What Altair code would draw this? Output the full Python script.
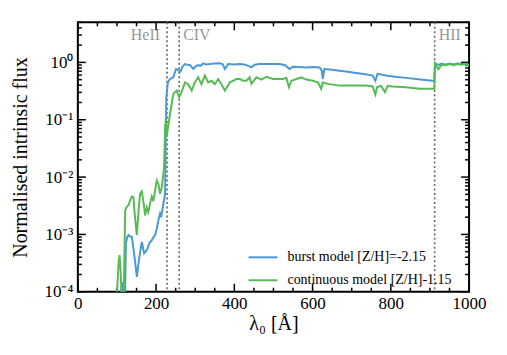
import altair as alt
import pandas as pd
import numpy as np

# --- data; flux given as log10 values ---
burst_lam = [105, 110.8, 112.5, 116.8, 120.5, 122.7, 126, 129.5, 134, 138, 145, 150.8, 156, 163.5,
             169.4, 173, 178, 183, 189, 193, 197.5, 201.7, 206, 210, 212.6, 218.7, 223, 224.5, 226,
             230, 235.7, 244, 251, 256.8, 262.5, 268, 273.9, 280, 286.6, 295, 301, 307.6, 314, 320.5,
             328, 337, 350, 362.5, 370, 375.8, 384, 400, 414, 428, 443.8, 452, 464, 490, 516, 530,
             541, 550, 565, 584, 600, 618, 624, 626, 630, 650, 669, 690, 711, 735, 753.6, 760.5, 766,
             787.8, 810, 838.7, 870, 906.5, 911, 913, 921.5, 930, 940, 950, 960, 970, 980, 990, 1000]
burst_log = [-5.0, -4.03, -3.83, -4.2, -4.2, -3.16, -3.05, -3.01, -3.04, -3.04, -3.4, -3.74, -3.45, -3.13,
             -3.33, -3.3, -3.25, -3.15, -3.10, -3.05, -3.01, -2.90, -2.75, -2.64, -2.70, -2.46, -2.29, -1.5, -0.62,
             -0.35, -0.29, -0.26, -0.115, -0.135, -0.16, -0.07, -0.03, -0.04, -0.045, -0.115, -0.07, -0.045, -0.06, -0.017,
             -0.035, -0.03, -0.02, -0.017, -0.03, -0.115, -0.03, -0.035, -0.03, -0.04, -0.087, -0.04, -0.03, -0.03, -0.03, -0.05,
             -0.115, -0.075, -0.08, -0.087, -0.08, -0.087, -0.15, -0.29, -0.115, -0.13, -0.145, -0.165, -0.185, -0.205, -0.23, -0.32, -0.2,
             -0.23, -0.25, -0.27, -0.295, -0.32, -0.32, -0.02, -0.045, -0.02, -0.04, -0.02, -0.035, -0.02, -0.03, -0.025, -0.045]

cont_lam = [95, 100, 104, 106.6, 109, 112.5, 117, 121, 125, 129.5, 134, 138, 142, 146, 150.8, 155, 159,
            163.5, 168, 172, 176, 180, 185, 189, 193, 197, 201.7, 206, 210, 214.7, 220.4, 222, 223, 225,
            227, 229, 235.7, 244, 252.5, 259, 265, 273.9, 282, 291, 299, 307.6, 316, 324.6, 333, 341.6,
            350, 358.6, 367, 375.8, 388.5, 405.5, 414, 422.5, 431, 439, 443.8, 456.5, 469, 482, 499, 524,
            533, 539.7, 546, 558.6, 571, 584, 601, 614, 622, 626, 639, 669, 711, 737, 753.6, 760.5, 765,
            775, 785, 792, 805, 839, 873, 906.5, 911, 913, 921.5, 930, 940, 950, 960, 970, 980, 990, 1000]
cont_log = [-5.0, -4.03, -3.5, -3.36, -3.6, -4.2, -4.2, -2.58, -2.52, -2.49, -2.40, -2.34, -2.35, -2.7, -3.01, -2.6, -2.29,
            -2.25, -2.45, -2.67, -2.53, -2.61, -2.45, -2.34, -2.42, -2.25, -2.06, -2.12, -2.29, -2.18, -1.83, -1.4, -1.13, -1.0,
            -1.30, -1.2, -0.90, -0.55, -0.49, -0.61, -0.52, -0.35, -0.38, -0.49, -0.35, -0.26, -0.38, -0.23, -0.35, -0.32,
            -0.38, -0.29, -0.38, -0.49, -0.35, -0.29, -0.29, -0.32, -0.32, -0.26, -0.375, -0.26, -0.3, -0.25, -0.29, -0.29,
            -0.27, -0.435, -0.32, -0.29, -0.26, -0.3, -0.32, -0.35, -0.46, -0.35, -0.375, -0.405, -0.405, -0.405, -0.42, -0.56, -0.43,
            -0.41, -0.52, -0.41, -0.42, -0.435, -0.46, -0.46, -0.46, -0.02, -0.12, -0.04, -0.05, -0.03, -0.05, -0.03, -0.04, -0.03, -0.05]

series_names = ["burst model [Z/H]=-2.15", "continuous model [Z/H]-1.15"]
series_colors = ["#4a98d6", "#57bb55"]

edge_lam = [228, 259, 912]
edge_names = ["HeII", "CIV", "HII"]
edge_align = ["right", "left", "left"]
edge_dx = [-7, 4, 4]

x_major = [0, 200, 400, 600, 800, 1000]
x_minor = [50, 100, 150, 250, 300, 350, 450, 500, 550, 650, 700, 750, 850, 900, 950]
y_major = [1e-4, 1e-3, 1e-2, 1e-1, 1]
y_minor = [m * 10.0 ** e for e in range(-4, 1) for m in range(2, 10) if m * 10.0 ** e <= 5]

W, H = 392, 270
FONT = "Liberation Serif"

df = pd.concat([
    pd.DataFrame({"lam": burst_lam, "flux": np.power(10.0, burst_log), "model": series_names[0]}),
    pd.DataFrame({"lam": cont_lam, "flux": np.power(10.0, cont_log), "model": series_names[1]}),
])

xs = alt.Scale(domain=[0, 1000], nice=False, zero=False)
ys = alt.Scale(type="log", domain=[1e-4, 5], nice=False)

x_axis = alt.Axis(values=x_major, title="λ₀ [Å]", format="d", labelPadding=4, titlePadding=2,
                  titleFontSize=20, labelFlush=False, labelOverlap=False)
y_axis = alt.Axis(
    values=y_major, title="Normalised intrinsic flux", labelPadding=5, titlePadding=14,
    titleFontSize=20, labelFlush=False, labelOverlap=False,
    labelExpr="datum.value >= 0.99 ? '10⁰' : datum.value >= 0.099 ? '10⁻¹' : datum.value >= 0.0099 ? '10⁻²' : datum.value >= 0.00099 ? '10⁻³' : '10⁻⁴'")

lines = alt.Chart(df).mark_line(clip=True, strokeWidth=2).encode(
    x=alt.X("lam:Q", scale=xs, axis=x_axis),
    y=alt.Y("flux:Q", scale=ys, axis=y_axis),
    color=alt.Color("model:N", sort=series_names,
                    scale=alt.Scale(domain=series_names, range=series_colors),
                    legend=alt.Legend(title=None, orient="none", legendX=170, legendY=220,
                                      symbolType="stroke", symbolStrokeWidth=2, symbolSize=841,
                                      labelLimit=0, rowPadding=-9, labelOffset=9)),
    order=alt.Order("model:N"),
)

edges_df = pd.DataFrame({"lam": edge_lam, "name": edge_names})
vlines = alt.Chart(edges_df).mark_rule(color="#666666", strokeDash=[2, 2.5], strokeWidth=1.6).encode(
    x=alt.X("lam:Q", scale=xs, axis=x_axis), y=alt.value(0), y2=alt.value(H))

texts = []
for n, l, a, d in zip(edge_names, edge_lam, edge_align, edge_dx):
    texts.append(alt.Chart(pd.DataFrame({"lam": [l], "name": [n]})).mark_text(
        align=a, dx=d, baseline="middle", font=FONT, fontSize=16, color="#999999").encode(
        x=alt.X("lam:Q", scale=xs, axis=x_axis), y=alt.value(13), text="name:N"))

def xticks(vals, y0, y1):
    return alt.Chart(pd.DataFrame({"lam": vals})).mark_rule(color="black", strokeWidth=1.5).encode(
        x=alt.X("lam:Q", scale=xs, axis=x_axis), y=alt.value(y0), y2=alt.value(y1))

def yticks(vals, x0, x1):
    return alt.Chart(pd.DataFrame({"flux": vals})).mark_rule(color="black", strokeWidth=1.5).encode(
        y=alt.Y("flux:Q", scale=ys, axis=y_axis), x=alt.value(x0), x2=alt.value(x1))

ticks = [
    xticks(x_major, H, H - 8), xticks(x_minor, H, H - 4),
    xticks(x_major, 0, 8), xticks(x_minor, 0, 4),
    yticks(y_major, 0, 8), yticks(y_minor, 0, 4),
    yticks(y_major, W, W - 8), yticks(y_minor, W, W - 4),
]

chart = alt.layer(vlines, *texts, *ticks, lines).properties(
    width=W, height=H,
    autosize=alt.AutoSizeParams(type="none"),
    padding={"left": 70, "top": 14, "right": 30, "bottom": 50},
).configure_view(stroke="black", strokeWidth=2).configure_axis(
    grid=False, ticks=False, domain=False,
    labelFont=FONT, labelFontSize=17, labelColor="black",
    titleFont=FONT, titleFontWeight="normal", titleColor="black",
).configure_legend(
    labelFont=FONT, labelFontSize=14, labelColor="black",
)

chart.save("out.html", embed_options={"renderer": "svg", "actions": False})
